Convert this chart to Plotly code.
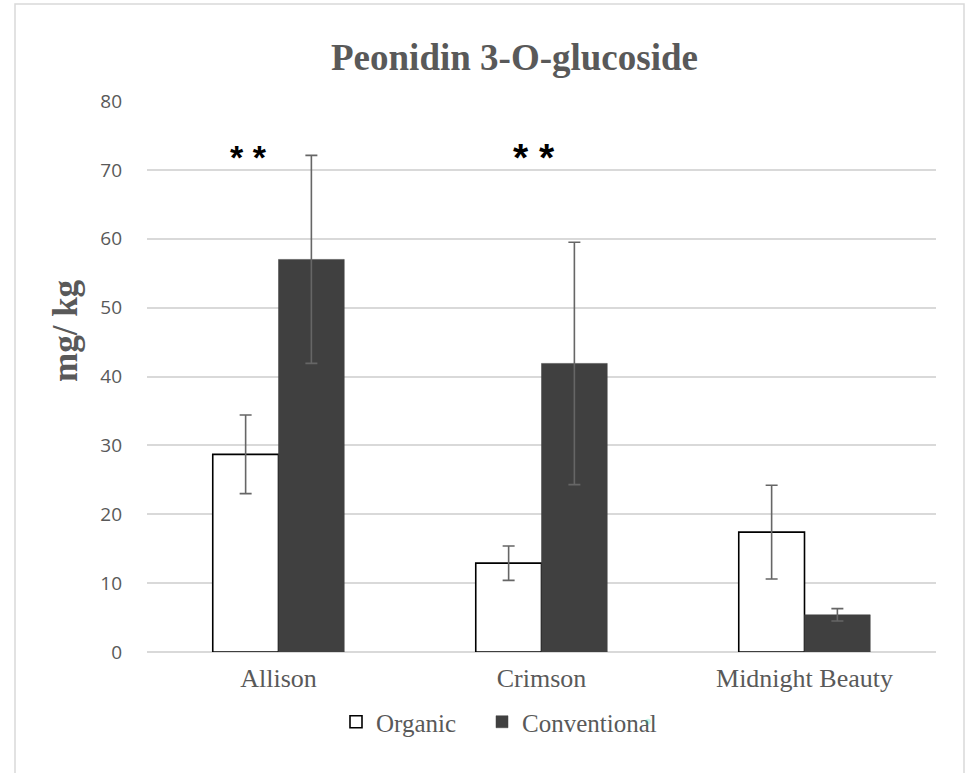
import plotly.graph_objects as go

categories = ["Allison", "Crimson", "Midnight Beauty"]
organic = [28.7, 12.9, 17.4]
organic_err = [5.7, 2.5, 6.8]
conventional = [57.0, 41.9, 5.4]
conventional_err = [15.1, 17.6, 0.9]
y_ticks = [0, 10, 20, 30, 40, 50, 60, 70, 80]

W, H = 966, 773
L, R, T, B = 147, 30, 101, 121
pw, ph = W - L - R, H - T - B

def px(xp):
    return (xp - L) / pw

def py(yp):
    return (H - B - yp) / ph

GRAY = "#595959"

fig = go.Figure()
fig.add_trace(go.Bar(
    name="Organic", x=categories, y=organic,
    marker=dict(color="white", line=dict(color="black", width=1.6)),
    error_y=dict(type="data", array=organic_err, color="#666666", thickness=1.6, width=6),
))
fig.add_trace(go.Bar(
    name="Conventional", x=categories, y=conventional,
    marker=dict(color="#404040", line=dict(color="#404040", width=0.5)),
    error_y=dict(type="data", array=conventional_err, color="#666666", thickness=1.6, width=6),
))
# invisible spacer entry so the last legend label is not clipped
fig.add_trace(go.Scatter(x=[None], y=[None], mode="markers", name=" ",
                         marker=dict(opacity=0), hoverinfo="skip"))

annotations = [
    dict(text="<b>Peonidin 3-O-glucoside</b>", x=px(514), y=py(57), xref="paper", yref="paper",
         showarrow=False, font=dict(family="Liberation Serif", size=37, color=GRAY),
         xanchor="center", yanchor="middle"),
    dict(text="<b>mg/ kg</b>", x=px(65), y=py(331), xref="paper", yref="paper",
         showarrow=False, textangle=-90, font=dict(family="Liberation Serif", size=35, color=GRAY),
         xanchor="center", yanchor="middle"),
    dict(text="<b>* *</b>", x=categories[0], y=71.8, xref="x", yref="y", xshift=-30,
         showarrow=False, font=dict(family="Liberation Sans", size=34, color="black"),
         xanchor="center", yanchor="middle"),
    dict(text="<b>* *</b>", x=categories[1], y=71.8, xref="x", yref="y", xshift=-8,
         showarrow=False, font=dict(family="Liberation Sans", size=39, color="black"),
         xanchor="center", yanchor="middle"),
]

shapes = [
    dict(type="rect", xref="paper", yref="paper", x0=px(15), x1=px(964), y0=py(790), y1=py(4),
         line=dict(color="#d9d9d9", width=1.5), fillcolor="rgba(0,0,0,0)", layer="below"),
]

fig.update_layout(
    width=W, height=H,
    margin=dict(l=L, r=R, t=T, b=B, pad=0),
    paper_bgcolor="white", plot_bgcolor="white",
    barmode="group", bargap=0.5, bargroupgap=0,
    showlegend=True,
    legend=dict(orientation="h", x=px(336), y=py(699), xanchor="left", yanchor="top",
                font=dict(family="Liberation Serif", size=25, color=GRAY),
                itemwidth=30, entrywidth=101, entrywidthmode="pixels",
                bgcolor="rgba(0,0,0,0)"),
    xaxis=dict(showgrid=False, showline=False, zeroline=False, ticks="",
               tickfont=dict(family="Liberation Serif", size=26, color=GRAY),
               ticklabelstandoff=8),
    yaxis=dict(range=[0, 80], tickvals=y_ticks, showgrid=True, gridcolor="#d9d9d9", gridwidth=1.5,
               zeroline=True, zerolinecolor="#d9d9d9", zerolinewidth=1.5, showline=False, ticks="",
               tickfont=dict(family="Open Sans", size=19, color=GRAY),
               ticklabelstandoff=24),
    annotations=annotations,
    shapes=shapes,
)

fig.write_html("out.html")
